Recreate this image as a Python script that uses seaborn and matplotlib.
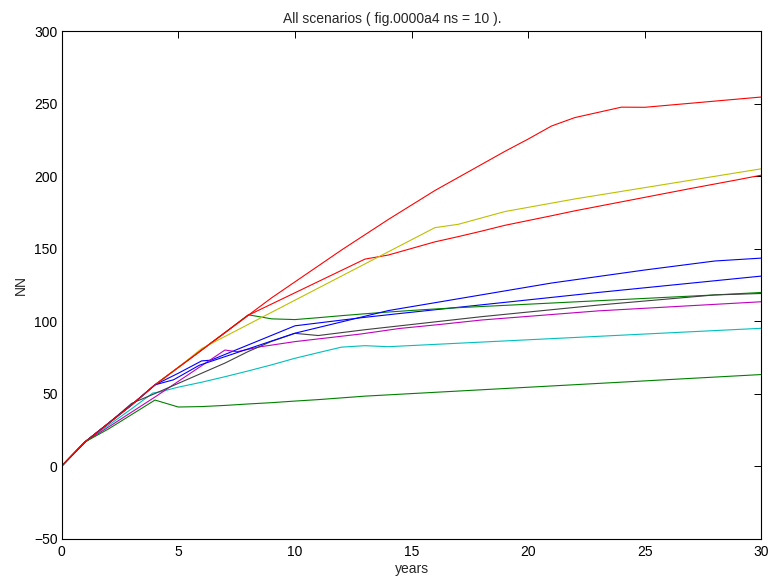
import matplotlib
matplotlib.use("Agg")
import matplotlib.pyplot as plt
import seaborn as sns
import pandas as pd

# Breakpoints (year, NN) for each of the ten scenarios, in plotting order.
s1_years = [0, 1, 2, 3, 4, 5, 6, 6.4, 10, 12.8, 14.5, 23, 30]
s1_vals = [0, 16.6, 29.4, 42.2, 56, 64, 72.5, 73, 96.7, 102.2, 105.2, 119.7, 131]

s2_years = [0, 1, 2, 3, 4, 5, 6, 7, 8, 9, 10, 11, 12, 13, 14, 15, 16, 17, 18, 20, 22, 24, 26, 28, 30]
s2_vals = [0, 16.6, 29.4, 42.2, 56, 68, 80, 92, 104.3, 101.5, 101, 102.3, 103.7, 105, 106.2,
           107.3, 108.3, 109.2, 110, 111.6, 113.2, 114.8, 116.4, 118, 119.7]

s3_years = [0, 1, 2, 3, 4, 5, 6, 7, 8, 13, 14, 16, 17, 18, 19, 20, 21, 22, 23, 24, 25, 26, 27, 28, 29, 30]
s3_vals = [0, 16.6, 29.4, 42.2, 56, 68, 80, 92, 104, 142.7, 145.5, 154.6, 158.2, 162, 166, 169.3,
           172.6, 176, 179.1, 182.2, 185.3, 188.4, 191.5, 194.5, 197.5, 200.6]

s4_years = [0, 1, 2, 3, 3.9, 4.2, 5, 6, 7, 8, 9, 10, 11, 12, 13, 14, 30]
s4_vals = [0, 16.6, 28, 39.5, 50.3, 51.1, 54.4, 57.8, 61.6, 65.6, 69.8, 74.3, 78.2, 82, 83, 82.3, 95]

s5_years = [0, 1, 2, 3, 4, 7, 7.5, 8.5, 10, 12.8, 14.5, 16.2, 18, 23, 30]
s5_vals = [0, 16.6, 26.8, 37.2, 47.6, 80, 78.8, 82.2, 85.8, 91, 94.9, 97.6, 100.7, 107, 113.3]

s6_years = [0, 1, 2, 3, 4, 5, 6, 16, 17, 19, 22, 30]
s6_vals = [0, 16.6, 29.4, 42.2, 56, 68, 81, 164.4, 166.7, 175.5, 184.2, 205]

s7_years = [0, 1, 2, 3, 4, 5, 6, 7, 8, 9, 10, 11, 12, 13, 18, 23, 28, 30]
s7_vals = [0, 16.6, 29.4, 43.2, 50, 57, 64, 71, 79, 86, 91.5, 90, 92, 94, 103, 111, 118, 119]

s8_years = [0, 1, 2, 3, 4, 4.8, 5.9, 10, 14, 21, 25, 28, 30]
s8_vals = [0, 16.6, 29.4, 42.2, 56, 59.5, 69.5, 91.6, 107.2, 126.2, 135.2, 141.4, 143.4]

s9_years = [0, 1, 2, 3, 4, 5, 6, 7, 8, 9, 10, 11, 12, 13, 30]
s9_vals = [0, 16.6, 25.5, 35.5, 45.5, 40.7, 41, 41.8, 42.8, 43.7, 44.8, 45.8, 47, 48.2, 63.1]

s10_years = [0, 1, 2, 3, 4, 5, 6, 7, 8, 9, 10, 11, 12, 13, 14, 15, 16, 17, 18, 19, 20, 21, 22, 24, 25, 30]
s10_vals = [0, 16.6, 29.4, 42.2, 56, 68, 80, 92, 104, 116, 127, 138, 149, 159.5, 170, 180, 190,
            199, 208, 217, 225.5, 234.5, 240.3, 247.5, 247.4, 254.5]

# Classic MATLAB colour cycle: b g r c m y k, then b g r again.
line_colors = [(0, 0, 1), (0, 0.5, 0), (1, 0, 0), (0, 0.75, 0.75), (0.75, 0, 0.75),
               (0.75, 0.75, 0), (0.25, 0.25, 0.25), (0, 0, 1), (0, 0.5, 0), (1, 0, 0)]

x_ticks = [0, 5, 10, 15, 20, 25, 30]
y_ticks = [-50, 0, 50, 100, 150, 200, 250, 300]

series = [(s1_years, s1_vals), (s2_years, s2_vals), (s3_years, s3_vals), (s4_years, s4_vals),
          (s5_years, s5_vals), (s6_years, s6_vals), (s7_years, s7_vals), (s8_years, s8_vals),
          (s9_years, s9_vals), (s10_years, s10_vals)]

frames = []
for i, (yrs, vals) in enumerate(series):
    frames.append(pd.DataFrame({"year": yrs, "NN": vals, "scenario": f"s{i + 1}"}))
df = pd.concat(frames, ignore_index=True)

sns.set_style("white")
plt.rcParams["font.family"] = ["Liberation Sans Narrow", "Liberation Sans", "DejaVu Sans"]

fig = plt.figure(figsize=(7.7, 5.81), dpi=100)
ax = fig.add_axes([0.0801, 0.0731, 0.9088, 0.8735])

sns.lineplot(data=df, x="year", y="NN", hue="scenario", palette=line_colors,
             estimator=None, sort=False, legend=False, linewidth=0.8, ax=ax)

ax.set_xlim(0, 30)
ax.set_ylim(-50, 300)
ax.set_xticks(x_ticks)
ax.set_yticks(y_ticks)
ax.set_xticklabels([str(t) for t in x_ticks])
ax.set_yticklabels([str(t).replace("-", "\u2212") for t in y_ticks])
ax.tick_params(direction="in", length=5, width=0.7, top=True, right=True,
               labelsize=10, colors="black")
ax.tick_params(axis="x", pad=5)
ax.tick_params(axis="y", pad=3)
for sp in ax.spines.values():
    sp.set_visible(True)
    sp.set_color("black")
    sp.set_linewidth(0.8)

ax.set_xlabel("years", fontsize=10, labelpad=2)
ax.set_ylabel("NN", fontsize=10, labelpad=4)
ax.set_title("All scenarios ( fig.0000a4 ns = 10 ).", fontsize=10, pad=6, x=0.473)

fig.savefig("out.png", dpi=100)
